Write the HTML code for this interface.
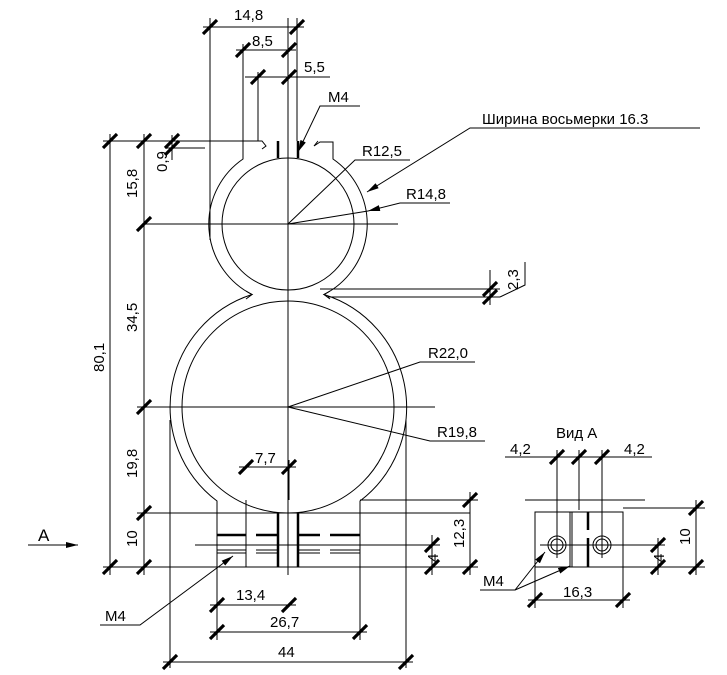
<!DOCTYPE html>
<html><head><meta charset="utf-8"><style>
body{margin:0;background:#fff}
svg{display:block}
text{font-family:"Liberation Sans",sans-serif;font-size:15px;fill:#000}
</style></head><body>
<svg width="727" height="675" viewBox="0 0 727 675" xmlns="http://www.w3.org/2000/svg">
<defs>
<g id="t"><line x1="-7" y1="7" x2="7" y2="-7" stroke="#000" stroke-width="3.2"/></g>
<marker id="ar" viewBox="0 0 12 6" refX="12" refY="3" markerWidth="12" markerHeight="6" orient="auto" markerUnits="userSpaceOnUse"><path d="M0,0L12,3L0,6z" fill="#000"/></marker>
</defs>
<g stroke="#000" stroke-width="1" fill="none">
<!-- outer contour -->
<path d="M243,141 L243,159 A79,79 0 0 0 252,294.5 A118,118 0 0 0 217,501 L217,567 L360,567 L360,501 A118,118 0 0 0 324,294.5 A79,79 0 0 0 333,159 L333,142 L320,142 L314,146 L318,141"/>
<path d="M180,141 L262,141 L266,146 L262,149"/>
<path d="M246,291 L252,294.5 L246,299 M330,291 L324,294.5 L330,299"/>
<circle cx="288" cy="224" r="66"/>
<circle cx="288" cy="407" r="106"/>
<line x1="278" y1="141" x2="278" y2="158" stroke-width="2.5"/>
<line x1="298" y1="141" x2="298" y2="158" stroke-width="2.5"/>
<!-- centerlines -->
<line x1="288" y1="18" x2="288" y2="575"/>
<line x1="145" y1="224" x2="398" y2="224"/>
<line x1="137" y1="407" x2="435" y2="407"/>
<line x1="137" y1="513" x2="470" y2="513"/>
<line x1="360" y1="500" x2="478" y2="500"/>
<line x1="103" y1="141" x2="180" y2="141"/>
<line x1="103" y1="567" x2="440" y2="567"/>
<line x1="165" y1="148" x2="205" y2="148"/>
<line x1="320" y1="289" x2="500" y2="289"/>
<line x1="327" y1="297" x2="500" y2="297"/>
<line x1="195" y1="545" x2="440" y2="545"/>
<line x1="440" y1="567" x2="478" y2="567"/>
<!-- slots bottom -->
<line x1="278" y1="513" x2="278" y2="567" stroke-width="2.5"/>
<line x1="298" y1="513" x2="298" y2="567" stroke-width="2.5"/>
<line x1="246" y1="500" x2="246" y2="567"/>
<path d="M217,535 L246,535 M256,535 L278,535 M298,535 L320,535 M330,535 L360,535" stroke-width="2.5"/>
<path d="M217,550 L246,550 M256,550 L278,550 M298,550 L320,550 M330,550 L360,550" stroke-width="1"/>
<path d="M217,553 L246,553 M256,553 L278,553 M298,553 L320,553 M330,553 L360,553" stroke-width="1"/>
<!-- top dims -->
<line x1="210" y1="18" x2="210" y2="240"/><line x1="297" y1="18" x2="297" y2="141"/>
<line x1="203" y1="27" x2="304" y2="27"/>
<line x1="243" y1="44" x2="243" y2="141"/>
<line x1="236" y1="50" x2="296" y2="50"/>
<line x1="258" y1="72" x2="258" y2="141"/>
<line x1="245" y1="77" x2="330" y2="77"/>
<!-- left dims -->
<line x1="110" y1="134" x2="110" y2="575"/>
<line x1="144" y1="134" x2="144" y2="575"/>
<line x1="172" y1="135" x2="172" y2="160"/>
<line x1="490" y1="270" x2="490" y2="305"/>
<line x1="470" y1="492" x2="470" y2="575"/>
<line x1="432" y1="535" x2="432" y2="575"/>
<!-- bottom dims -->
<line x1="217" y1="567" x2="217" y2="640"/>
<line x1="360" y1="567" x2="360" y2="640"/>
<line x1="170" y1="420" x2="170" y2="668"/>
<line x1="406" y1="420" x2="406" y2="668"/>
<line x1="210" y1="605" x2="296" y2="605"/>
<line x1="210" y1="632" x2="367" y2="632"/>
<line x1="163" y1="662" x2="413" y2="662"/>
<line x1="239" y1="467" x2="296" y2="467"/>
<line x1="289" y1="460" x2="289" y2="500"/>
<!-- leaders -->
<path d="M360,106 L320,106 L298,152" marker-end="url(#ar)"/>
<path d="M700,128 L470,128 L367,192" marker-end="url(#ar)"/>
<path d="M410,160 L355,160 L288,224"/>
<path d="M450,203 L400,203 L368,211" marker-end="url(#ar)"/>
<line x1="368" y1="211" x2="288" y2="224"/>
<path d="M475,362 L420,362 L288,407"/>
<path d="M485,441 L430,441 L288,407"/>
<path d="M525,262 L525,285 L500,297"/>
<path d="M100,625 L140,625 L233,556" marker-end="url(#ar)"/>
<path d="M28,545 L78,545" marker-end="url(#ar)"/>
<!-- Vid A -->
<line x1="505" y1="457" x2="652" y2="457"/>
<line x1="525" y1="500" x2="645" y2="500"/>
<rect x="535" y="512" width="88" height="55"/>
<line x1="557" y1="450" x2="557" y2="558"/>
<line x1="579" y1="450" x2="579" y2="510"/>
<line x1="602" y1="450" x2="602" y2="558"/>
<line x1="570" y1="512" x2="570" y2="567"/>
<line x1="572" y1="512" x2="572" y2="567"/>
<line x1="588" y1="512" x2="588" y2="530" stroke-width="2.5"/>
<line x1="588" y1="538" x2="588" y2="567" stroke-width="2.5"/>
<circle cx="557" cy="545" r="9"/><circle cx="557" cy="545" r="6"/>
<circle cx="602" cy="545" r="9"/><circle cx="602" cy="545" r="6"/>
<line x1="540" y1="545" x2="665" y2="545"/>
<line x1="623" y1="508" x2="705" y2="508"/>
<line x1="623" y1="567" x2="705" y2="567"/>
<line x1="696" y1="500" x2="696" y2="575"/>
<line x1="658" y1="538" x2="658" y2="575"/>
<line x1="535" y1="567" x2="535" y2="608"/>
<line x1="623" y1="567" x2="623" y2="608"/>
<line x1="528" y1="600" x2="630" y2="600"/>
<path d="M480,590 L515,590 L545,552" marker-end="url(#ar)"/>
<path d="M515,590 L570,566" marker-end="url(#ar)"/>
</g>
<!-- ticks -->
<g>
<use href="#t" x="210" y="27"/><use href="#t" x="297" y="27"/>
<use href="#t" x="243" y="50"/><use href="#t" x="289" y="50"/>
<use href="#t" x="258" y="77"/><use href="#t" x="289" y="77"/>
<use href="#t" x="110" y="141"/><use href="#t" x="110" y="567"/>
<use href="#t" x="144" y="141"/><use href="#t" x="144" y="224"/><use href="#t" x="144" y="407"/><use href="#t" x="144" y="513"/><use href="#t" x="144" y="567"/>
<use href="#t" x="172" y="141"/><use href="#t" x="172" y="148"/>
<use href="#t" x="490" y="289"/><use href="#t" x="490" y="297"/>
<use href="#t" x="470" y="500"/><use href="#t" x="470" y="567"/>
<use href="#t" x="432" y="545"/><use href="#t" x="432" y="567"/>
<use href="#t" x="246" y="467"/><use href="#t" x="289" y="467"/>
<use href="#t" x="217" y="605"/><use href="#t" x="289" y="605"/>
<use href="#t" x="217" y="632"/><use href="#t" x="360" y="632"/>
<use href="#t" x="170" y="662"/><use href="#t" x="406" y="662"/>
<use href="#t" x="557" y="457"/><use href="#t" x="579" y="457"/><use href="#t" x="602" y="457"/>
<use href="#t" x="696" y="508"/><use href="#t" x="696" y="567"/>
<use href="#t" x="658" y="545"/><use href="#t" x="658" y="567"/>
<use href="#t" x="535" y="600"/><use href="#t" x="623" y="600"/>
</g>
<!-- texts -->
<text x="234" y="20">14,8</text>
<text x="252" y="46">8,5</text>
<text x="304" y="72">5,5</text>
<text x="328" y="102">M4</text>
<text x="482" y="124">Ширина восьмерки 16.3</text>
<text x="362" y="156">R12,5</text>
<text x="406" y="199">R14,8</text>
<text x="428" y="358">R22,0</text>
<text x="437" y="437">R19,8</text>
<text x="255" y="463">7,7</text>
<text x="236" y="600">13,4</text>
<text x="270" y="627">26,7</text>
<text x="278" y="657">44</text>
<text x="38" y="541" style="font-size:17px">A</text>
<text x="105" y="621">M4</text>
<text x="556" y="438">Вид А</text>
<text x="510" y="454">4,2</text>
<text x="624" y="454">4,2</text>
<text x="563" y="597">16,3</text>
<text x="483" y="586">M4</text>
<g>
<text transform="translate(104,372) rotate(-90)">80,1</text>
<text transform="translate(137,198) rotate(-90)">15,8</text>
<text transform="translate(137,332) rotate(-90)">34,5</text>
<text transform="translate(137,478) rotate(-90)">19,8</text>
<text transform="translate(137,547) rotate(-90)">10</text>
<text transform="translate(167,172) rotate(-90)">0,9</text>
<text transform="translate(518,290) rotate(-90)">2,3</text>
<text transform="translate(464,548) rotate(-90)">12,3</text>
<text transform="translate(438,562) rotate(-90)">4</text>
<text transform="translate(690,545) rotate(-90)">10</text>
<text transform="translate(664,562) rotate(-90)">4</text>
</g>
</svg>
</body></html>
